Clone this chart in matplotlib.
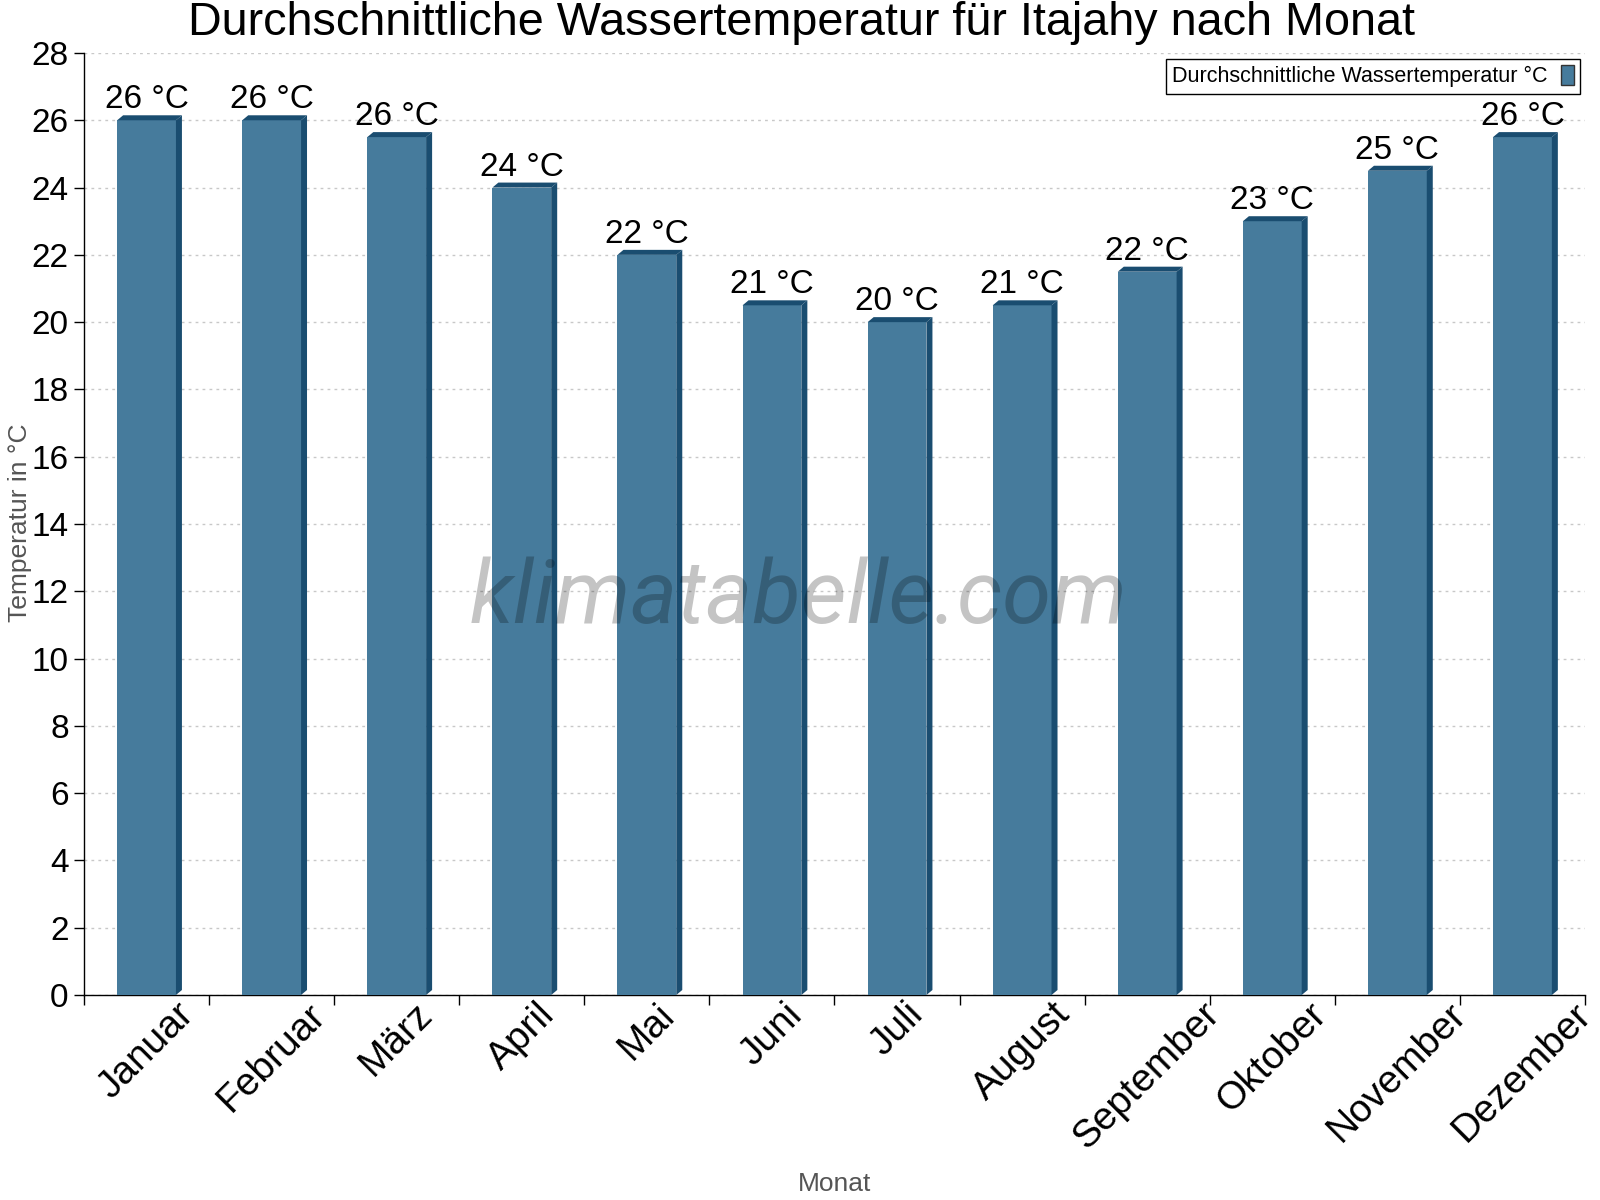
import matplotlib
matplotlib.use("Agg")
import matplotlib.pyplot as plt
from matplotlib.patches import Polygon, Patch
import numpy as np

months = ["Januar", "Februar", "März", "April", "Mai", "Juni", "Juli",
          "August", "September", "Oktober", "November", "Dezember"]
water_temp = [26, 26, 25.5, 24, 22, 20.5, 20, 20.5, 21.5, 23, 24.5, 25.5]
value_labels = ["26 °C", "26 °C", "26 °C", "24 °C", "22 °C", "21 °C", "20 °C",
                "21 °C", "22 °C", "23 °C", "25 °C", "26 °C"]
y_ticks = list(range(0, 29, 2))

plt.rcParams['font.family'] = ['Liberation Sans', 'DejaVu Sans']

W, H = 1600, 1200
fig = plt.figure(figsize=(16, 12), dpi=100)
left, right, bottom, top = 84 / W, 1585 / W, 1 - 995 / H, 1 - 53 / H
ax = fig.add_axes([left, bottom, right - left, top - bottom])

front = "#467b9c"
dark = "#1a4d70"
n = len(months)
x = np.arange(n)
bw = 0.47
ax.set_xlim(-0.5, n - 0.5)
ax.set_ylim(0, 28)

ax_w_px = (right - left) * W
ax_h_px = (top - bottom) * H
dx = 6 * n / ax_w_px
dy = 5 * 28 / ax_h_px

ax.bar(x, water_temp, width=bw, color=front, zorder=3, linewidth=0)
for xi, v, lab in zip(x, water_temp, value_labels):
    xl, xr = xi - bw / 2, xi + bw / 2
    ax.add_patch(Polygon([(xr, 0), (xr, v), (xr + dx, v + dy), (xr + dx, dy)],
                         closed=True, facecolor=dark, edgecolor='none', zorder=3))
    ax.add_patch(Polygon([(xl, v), (xl + dx, v + dy), (xr + dx, v + dy), (xr, v)],
                         closed=True, facecolor=dark, edgecolor='none', zorder=3))
    ax.text(xi, v + dy, lab, ha='center', va='bottom', fontsize=24,
            color='black', zorder=5)

ax.set_yticks(y_ticks)
ax.tick_params(axis='y', labelsize=24, length=7, width=1, direction='out', pad=4)
ax.set_xticks(np.arange(n + 1) - 0.5)
ax.set_xticklabels([])
ax.tick_params(axis='x', which='major', length=7, width=1, direction='out')
ax.set_xticks(x, minor=True)
ax.set_xticklabels(months, minor=True, rotation=45, ha='center', va='top',
                   fontsize=28)
ax.tick_params(axis='x', which='minor', length=0, pad=1)

ax.grid(axis='y', linestyle=(0, (2, 3)), color='#c8c8c8', linewidth=1, zorder=0)
ax.set_axisbelow(True)
for s in ['top', 'right']:
    ax.spines[s].set_visible(False)
ax.spines['left'].set_linewidth(1)
ax.spines['bottom'].set_linewidth(1)

fig.text(20 / W, 1 - 523 / H, "Temperatur in °C", fontsize=19, color='#555555',
         ha='center', va='center', rotation=90)
fig.text(835 / W, 1 - 1184 / H, "Monat", fontsize=19, color='#555555',
         ha='center', va='center')

fig.text(802 / W, 1 - 23 / H, "Durchschnittliche Wassertemperatur für Itajahy nach Monat",
         fontsize=33.7, ha='center', va='center')

fig.text(799 / W, 1 - 623 / H, "klimatabelle.com", fontsize=64, style='italic',
         family=['Roboto', 'DejaVu Sans'], fontweight='normal',
         color='black', alpha=0.23, ha='center', va='baseline', zorder=10)

leg = ax.legend(handles=[Patch(facecolor=front, edgecolor='#333333',
                               label="Durchschnittliche Wassertemperatur °C")],
                loc='upper right', bbox_to_anchor=(1 - 5 / ax_w_px, 1 - 6 / ax_h_px),
                borderaxespad=0,
                fontsize=15.5, frameon=True, fancybox=False, markerfirst=False,
                handlelength=0.6, handleheight=1.0, handletextpad=0.6,
                borderpad=0.3, edgecolor='black', framealpha=1)
leg.get_frame().set_linewidth(1)

fig.savefig("out.png", dpi=100)
